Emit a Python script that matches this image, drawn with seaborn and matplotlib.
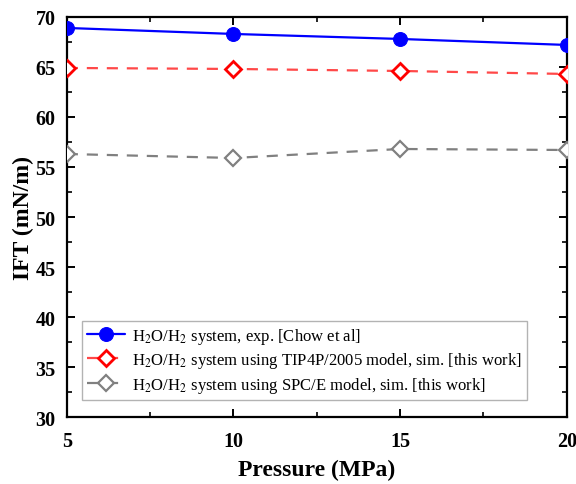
import matplotlib
matplotlib.use("Agg")
import matplotlib.pyplot as plt
import seaborn as sns
import pandas as pd
from matplotlib.ticker import MultipleLocator

sns.set_theme(style="ticks")
plt.rcParams["font.family"] = ["Liberation Serif", "DejaVu Serif"]
plt.rcParams["mathtext.fontset"] = "stix"
plt.rcParams["text.color"] = "black"
plt.rcParams["axes.labelcolor"] = "black"
plt.rcParams["xtick.color"] = "black"
plt.rcParams["ytick.color"] = "black"

pressure = [5, 10, 15, 20]
ift_exp = [68.9, 68.3, 67.8, 67.2]
ift_tip4p = [64.9, 64.8, 64.6, 64.3]
ift_spce = [56.3, 55.9, 56.8, 56.7]

labels = [
    r"H$_2$O/H$_2$ system, exp. [Chow et al]",
    r"H$_2$O/H$_2$ system using TIP4P/2005 model, sim. [this work]",
    r"H$_2$O/H$_2$ system using SPC/E model, sim. [this work]",
]

fig, ax = plt.subplots(figsize=(5.76, 4.85), dpi=100)
fig.subplots_adjust(left=0.116, right=0.984, top=0.963, bottom=0.138)

df = pd.DataFrame({"p": pressure, "exp": ift_exp, "tip": ift_tip4p, "spce": ift_spce})

sns.lineplot(data=df, x="p", y="exp", ax=ax, color="#0000ff", lw=1.6,
             marker="o", markersize=10, markeredgecolor="#0000ff",
             markerfacecolor="#0000ff", label=labels[0], zorder=5)
sns.lineplot(data=df, x="p", y="tip", ax=ax, color="#ff4848", lw=1.6,
             linestyle=(0, (5, 4)), marker="D", markersize=8,
             markeredgecolor="#ff0000", markerfacecolor="white",
             markeredgewidth=2, label=labels[1], zorder=4)
sns.lineplot(data=df, x="p", y="spce", ax=ax, color="#808080", lw=1.6,
             linestyle=(0, (5, 4)), marker="D", markersize=8,
             markeredgecolor="#808080", markerfacecolor="white",
             markeredgewidth=1.6, label=labels[2], zorder=3)

ax.set_xlim(5, 20)
ax.set_ylim(30, 70)
ax.xaxis.set_major_locator(MultipleLocator(5))
ax.xaxis.set_minor_locator(MultipleLocator(2.5))
ax.yaxis.set_major_locator(MultipleLocator(5))
ax.yaxis.set_minor_locator(MultipleLocator(2.5))
ax.tick_params(which="both", direction="in", top=True, right=True,
               color="black", labelcolor="black")
ax.tick_params(which="major", length=6, width=1.4, labelsize=14.5)
ax.tick_params(axis="x", which="major", pad=10)
ax.tick_params(axis="y", which="major", pad=8)
ax.tick_params(which="minor", length=3.5, width=1.2)
for lbl in ax.get_xticklabels() + ax.get_yticklabels():
    lbl.set_fontweight("bold")
for s in ax.spines.values():
    s.set_linewidth(1.6)
    s.set_color("black")

ax.set_xlabel("Pressure (MPa)", fontsize=17, fontweight="bold", labelpad=6)
ax.set_ylabel("IFT (mN/m)", fontsize=17, fontweight="bold", labelpad=1)

leg = ax.legend(loc="lower left", bbox_to_anchor=(0.03, 0.043), fontsize=12,
                frameon=True, fancybox=False, edgecolor="#a0a0a0",
                handlelength=2.3, handletextpad=0.4, borderpad=0.3,
                labelspacing=0.28, borderaxespad=0)
leg.get_frame().set_linewidth(1.0)
for t in leg.get_texts():
    t.set_color("black")

fig.savefig("out.png", dpi=100)
